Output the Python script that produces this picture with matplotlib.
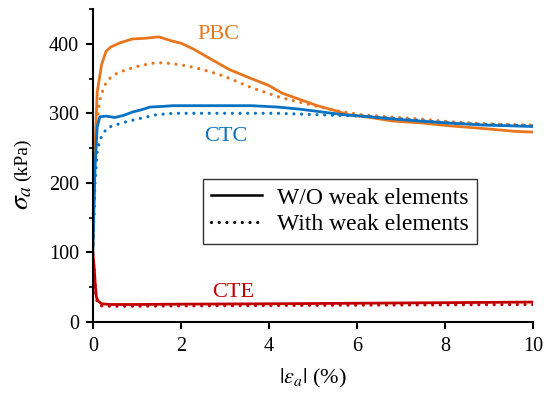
import matplotlib
matplotlib.use("Agg")
import matplotlib.pyplot as plt
from matplotlib.ticker import MultipleLocator

plt.rcParams['font.family'] = ['Liberation Serif', 'DejaVu Serif']
plt.rcParams['mathtext.fontset'] = 'stix'

# Axial strain (%) and deviator stress (kPa) for each loading path
pbc_x = [0.0, 0.05, 0.1, 0.2, 0.3, 0.4, 0.6, 0.9, 1.2, 1.5, 1.8, 2.0, 2.3, 2.6, 3.1, 3.6, 4.0, 4.3, 4.7, 5.1, 5.5, 5.8, 6.3, 6.8, 7.5, 8.1, 8.7, 9.25, 9.6, 10.0]
pbc_solid = [100, 250, 330, 370, 389, 395, 401, 407, 408, 410, 404, 401, 392, 381, 363, 350, 340, 329, 320, 311, 304, 298, 294, 289, 286, 282, 279, 276, 274, 273]
pbc_dot_x = [0.0, 0.05, 0.1, 0.16, 0.25, 0.34, 0.5, 0.77, 1.1, 1.45, 1.7, 1.98, 2.3, 2.66, 3.0, 3.3, 3.6, 4.25, 4.7, 5.1, 5.6, 6.1, 6.7, 7.4, 8.1, 8.9, 9.4, 10.0]
pbc_dot = [100, 220, 290, 319, 338, 348, 356, 363, 369, 373, 372, 370, 366, 360, 353, 345, 337, 323, 316, 310, 303, 298, 295, 292, 288, 285, 284, 283]

ctc_x = [0.0, 0.05, 0.1, 0.16, 0.3, 0.5, 0.7, 0.91, 1.1, 1.3, 1.6, 1.82, 2.5, 3.0, 3.6, 4.2, 4.7, 5.2, 5.7, 6.3, 6.8, 7.4, 8.1, 8.9, 9.5, 10.0]
ctc_solid = [100, 220, 280, 295, 296, 294, 297, 302, 305, 309, 310, 311, 311, 311, 311, 309, 306, 302, 298, 295, 292, 289, 286, 283, 282, 281]
ctc_dot_x = [0.0, 0.05, 0.1, 0.16, 0.32, 0.5, 0.77, 1.1, 1.45, 1.82, 2.5, 3.0, 3.6, 4.2, 5.1, 6.1, 7.0, 8.1, 9.0, 10.0]
ctc_dot = [100, 200, 245, 262, 279, 283, 288, 293, 298, 300, 300, 300, 300, 300, 298, 296, 292, 286, 284, 282]

cte_x = [0.0, 0.03, 0.06, 0.08, 0.12, 0.2, 0.4, 1.0, 2.0, 4.0, 6.0, 8.0, 10.0]
cte_solid = [99, 80, 50, 36, 30, 26, 25, 25, 25.5, 26, 26.8, 27.6, 28.5]
cte_dot = [97, 75, 45, 33, 26, 23, 22.5, 22.5, 23, 23.5, 24, 24.5, 25]

orange = '#E8761E'
blue = '#0A72C2'
red = '#C00000'

fig = plt.figure(figsize=(5.49, 3.93), dpi=100)
ax = fig.add_axes([0.169, 0.181, 0.802, 0.796])

dot_style = dict(linestyle=(0, (0.01, 2.4)), dash_capstyle='round', lw=2.3)
ax.plot(pbc_x, pbc_solid, color=orange, lw=2.0)
ax.plot(pbc_dot_x, pbc_dot, color=orange, **dot_style)
ax.plot(ctc_x, ctc_solid, color=blue, lw=2.0)
ax.plot(ctc_dot_x, ctc_dot, color=blue, **dot_style)
ax.plot(cte_x, cte_solid, color=red, lw=2.0)
ax.plot(cte_x, cte_dot, color=red, **dot_style)

ax.text(2.86, 413, 'PBC', color=orange, fontsize=16, ha='center', va='center')
ax.text(3.03, 266, 'CTC', color=blue, fontsize=16, ha='center', va='center')
ax.text(3.19, 42, 'CTE', color=red, fontsize=16, ha='center', va='center')

ax.set_xlim(0, 10)
ax.set_ylim(0, 450)
ax.xaxis.set_major_locator(MultipleLocator(2))
ax.yaxis.set_major_locator(MultipleLocator(100))
ax.yaxis.set_minor_locator(MultipleLocator(50))
ax.spines['top'].set_visible(False)
ax.spines['right'].set_visible(False)
for s in ('left', 'bottom'):
    ax.spines[s].set_linewidth(1.5)
ax.tick_params(which='major', direction='out', length=5, width=1.5, labelsize=14.5)
ax.tick_params(which='minor', direction='out', length=3, width=1.2)
ax.tick_params(axis='x', pad=6)
ax.tick_params(axis='y', pad=5)

ax.set_xlabel(r'$|\varepsilon_a|$ (%)', fontsize=16, labelpad=8)

# y-axis label: enlarged sigma symbol followed by the unit
fig.text(22 / 549, 0.497, r'$\sigma_a$', fontsize=20, rotation=90,
         ha='center', va='center')
fig.text(22 / 549, 0.594, '(kPa)', fontsize=14, rotation=90,
         ha='center', va='center')

h1, = ax.plot([], [], color='black', lw=1.8)
h2, = ax.plot([], [], color='black', **dot_style)
leg = ax.legend([h1, h2], ['W/O weak elements', 'With weak elements'],
                loc='upper left', bbox_to_anchor=(0.25, 0.457), fontsize=17,
                frameon=True, fancybox=False, edgecolor='black',
                handlelength=2.15, handletextpad=0.64, borderpad=0.35,
                labelspacing=0.22, borderaxespad=0.0)
leg.get_frame().set_linewidth(1.0)

fig.savefig('out.png', dpi=100)
